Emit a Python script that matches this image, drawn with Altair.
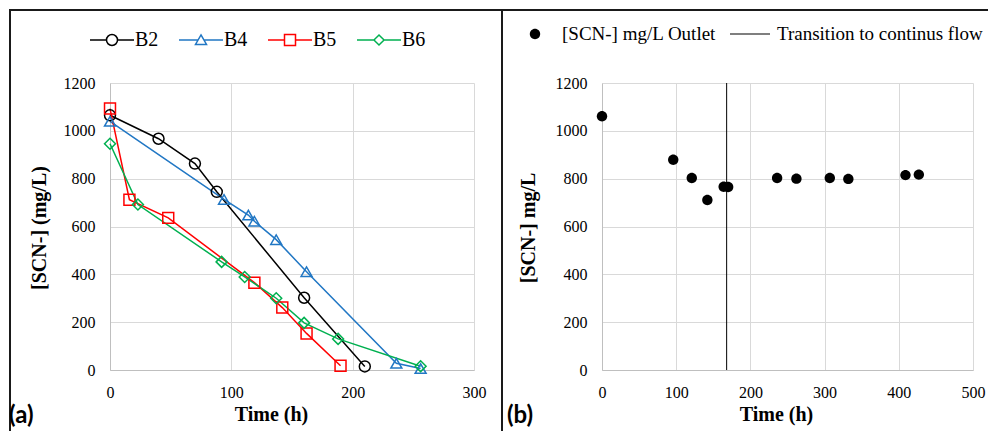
import altair as alt
import pandas as pd

# ---------------- data ----------------
series_names = ["B2", "B4", "B5", "B6"]
series_colors = ["#000000", "#2177c4", "#ff0000", "#00b050"]

b2_time = [0, 40, 70, 88, 160, 210]
b2_scn = [1065, 967, 863, 745, 302, 15]
b4_time = [0, 94, 114, 119, 137, 162, 236, 256]
b4_scn = [1040, 713, 648, 622, 545, 411, 28, 6]
b5_time = [0, 16, 48, 119, 142, 162, 190]
b5_scn = [1093, 712, 636, 365, 261, 153, 18]
b6_time = [0, 23, 92, 111, 137, 160, 188, 256]
b6_scn = [946, 692, 452, 389, 300, 197, 130, 16]

outlet_time = [0, 96, 121, 142, 164, 170, 236, 262, 307, 332, 409, 427]
outlet_scn = [1061, 879, 803, 711, 766, 765, 803, 800, 803, 799, 815, 817]
transition_time = [168]

right_legend_names = ["[SCN-] mg/L Outlet", "Transition to continus flow"]
panel_labels = ["(a)", "(b)"]

left_x_ticks = [0, 100, 200, 300]
right_x_ticks = [0, 100, 200, 300, 400, 500]
y_ticks = [0, 200, 400, 600, 800, 1000, 1200]

# ---------------- tables ----------------
rows = []
for name, ts, vs in zip(series_names, [b2_time, b4_time, b5_time, b6_time],
                        [b2_scn, b4_scn, b5_scn, b6_scn]):
    for t, v in zip(ts, vs):
        rows.append({"Series": name, "Time": t, "SCN": v})
left_df = pd.DataFrame(rows)
right_df = pd.DataFrame({"Series": right_legend_names[0], "Time": outlet_time, "SCN": outlet_scn})
trans_df = pd.DataFrame({"Time": transition_time})
one_row = pd.DataFrame({"k": [0]})

# ---------------- styling ----------------
W_L, W_R, H = 364, 371, 287
SERIF = "Liberation Serif"
axis_style = dict(grid=True, gridColor="#d9d9d9", gridWidth=1, domainColor="#bfbfbf",
                  domainWidth=1, ticks=False, labelFont=SERIF, labelFontSize=16,
                  labelColor="black", titleFont=SERIF, titleFontSize=20,
                  titleFontWeight="bold", titleColor="black", format="d",
                  labelFlush=False)

def x_axis(ticks, title, tx):
    return alt.Axis(values=ticks, title=title, labelPadding=14, titleX=tx, titleY=44,
                    titleBaseline="middle", titleAlign="center", **axis_style)

def y_axis(title, tx):
    return alt.Axis(values=y_ticks, title=title, labelPadding=15, titleX=tx,
                    titleY=H / 2 + 1, titleBaseline="middle", titleAngle=-90,
                    **axis_style)

BORDER = "#1a1a1a"

def hline(y, x1, x2):
    return alt.Chart(one_row).mark_rule(color=BORDER, strokeWidth=2).encode(
        y=alt.value(y), x=alt.value(x1), x2=alt.value(x2))

def vline(x, y1, y2):
    return alt.Chart(one_row).mark_rule(color=BORDER, strokeWidth=2).encode(
        x=alt.value(x), y=alt.value(y1), y2=alt.value(y2))

def panel_text(label, x, y):
    return alt.Chart(one_row).mark_text(font="Lato", fontSize=24, fontWeight="bold",
                                        align="left", baseline="middle",
                                        color="black").encode(
        x=alt.value(x), y=alt.value(y), text=alt.value(label))

# ---------------- left chart ----------------
lx = alt.X("Time:Q", scale=alt.Scale(domain=[0, 300], nice=False),
           axis=x_axis(left_x_ticks, "Time (h)", 161))
ly = alt.Y("SCN:Q", scale=alt.Scale(domain=[0, 1200], nice=False),
           axis=y_axis("[SCN-] (mg/L)", -71))
color_scale = alt.Scale(domain=series_names, range=series_colors)

lines = alt.Chart(left_df).mark_line(strokeWidth=1.5).encode(
    x=lx, y=ly, color=alt.Color("Series:N", scale=color_scale, legend=None),
    detail="Series:N")

points = alt.Chart(left_df).mark_point(size=120, strokeWidth=1.5, filled=False, opacity=1).encode(
    x=lx, y=ly,
    color=alt.Color("Series:N", scale=color_scale, legend=None),
    shape=alt.Shape("Series:N", scale=alt.Scale(domain=series_names,
                    range=["circle", "triangle-up", "square", "diamond"]), legend=None))

legend_paths = [
    "M-1,0L-0.25,0M0.25,0L1,0M0.25,0A0.25,0.25 0 1,1 -0.25,0A0.25,0.25 0 1,1 0.25,0",
    "M-1,0L-0.134,0M0.134,0L1,0M0,-0.23L0.25,0.2L-0.25,0.2Z",
    "M-1,0L-0.25,0M0.25,0L1,0M-0.25,-0.25L0.25,-0.25L0.25,0.25L-0.25,0.25Z",
    "M-1,0L-0.23,0M0.23,0L1,0M-0.23,0L0,-0.23L0.23,0L0,0.23Z",
]
left_legend = alt.Legend(orient="none", legendX=-21, legendY=-66, direction="horizontal",
                         columns=4, title=None, labelFont=SERIF, labelFontSize=20,
                         labelColor="black", symbolSize=1936, symbolStrokeWidth=1.5,
                         labelOffset=0, columnPadding=17, padding=0, symbolOpacity=1)
legend_layer = alt.Chart(left_df).mark_point(filled=False, strokeWidth=1.5).encode(
    x=lx, y=ly,
    color=alt.Color("Series:N", scale=color_scale, legend=left_legend),
    shape=alt.Shape("Series:N", scale=alt.Scale(domain=series_names, range=legend_paths),
                    legend=left_legend)).transform_filter("false")

left = alt.layer(
    lines, points, legend_layer,
    vline(-100, -74, 349), hline(-73, -101, 392), vline(392, -74, 349),
    panel_text(panel_labels[0], -101, 333),
).resolve_scale(color="independent", shape="independent").properties(width=W_L, height=H)

# ---------------- right chart ----------------
rx = alt.X("Time:Q", scale=alt.Scale(domain=[0, 500], nice=False),
           axis=x_axis(right_x_ticks, "Time (h)", 174))
ry = alt.Y("SCN:Q", scale=alt.Scale(domain=[0, 1200], nice=False),
           axis=y_axis("[SCN-] mg/L", -74))

right_paths = [
    "M0.26,0A0.26,0.26 0 1,1 -0.26,0A0.26,0.26 0 1,1 0.26,0Z",
    "M-1,-0.028L1,-0.028L1,0.028L-1,0.028Z",
]
# legends of a concatenated chart are placed from the first panel's origin
right_legend = alt.Legend(orient="none", legendX=404, legendY=-70, direction="horizontal",
                          columns=2, title=None, labelFont=SERIF, labelFontSize=19,
                          labelColor="black", symbolSize=1600,
                          symbolFillColor="black",
                          labelOffset=6, columnPadding=10, padding=0, labelLimit=400)
r_points = alt.Chart(right_df).mark_point(filled=True, color="black", size=1600,
                                          opacity=1).encode(
    x=rx, y=ry,
    shape=alt.Shape("Series:N", scale=alt.Scale(domain=right_legend_names, range=right_paths),
                    legend=right_legend))
r_rule = alt.Chart(trans_df).mark_rule(color="black", strokeWidth=1).encode(x=rx)

right = alt.layer(
    r_rule, r_points,
    vline(-100, -74, 349), hline(-73, -100, 386),
    panel_text(panel_labels[1], -95, 333),
).properties(width=W_R, height=H)

chart = alt.hconcat(left, right, spacing=128, bounds="flush").properties(
    padding=0,
).configure_view(strokeWidth=0)

chart.save("out.html", embed_options={"renderer": "svg", "actions": False})
